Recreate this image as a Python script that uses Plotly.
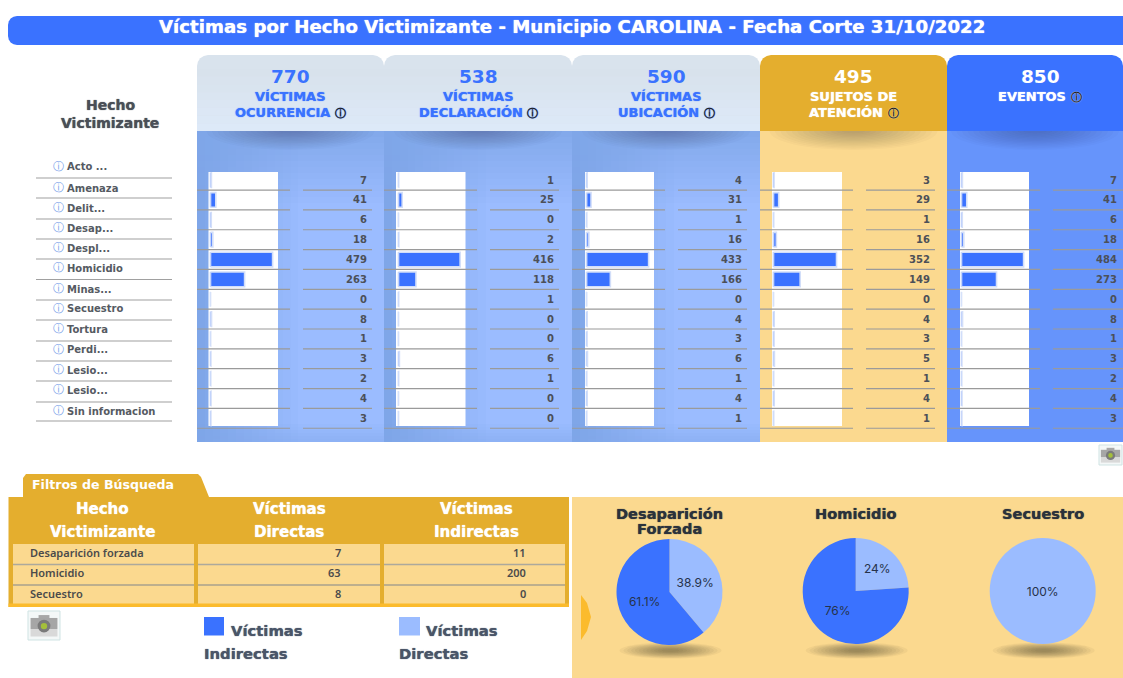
import plotly.graph_objects as go

# ---------- data ----------
titulo = "Víctimas por Hecho Victimizante - Municipio CAROLINA - Fecha Corte 31/10/2022"
hechos = ["Acto ...", "Amenaza", "Delit...", "Desap...", "Despl...", "Homicidio", "Minas...",
          "Secuestro", "Tortura", "Perdi...", "Lesio...", "Lesio...", "Sin informacion"]
ocurrencia = [7, 41, 6, 18, 479, 263, 0, 8, 1, 3, 2, 4, 3]
declaracion = [1, 25, 0, 2, 416, 118, 1, 0, 0, 6, 1, 0, 0]
ubicacion = [4, 31, 1, 16, 433, 166, 0, 4, 3, 6, 1, 4, 1]
sujetos = [3, 29, 1, 16, 352, 149, 0, 4, 3, 5, 1, 4, 1]
eventos = [7, 41, 6, 18, 484, 273, 0, 8, 1, 3, 2, 4, 3]
series = [ocurrencia, declaracion, ubicacion, sujetos, eventos]
totales = ["770", "538", "590", "495", "850"]
encabezados = [["VÍCTIMAS", "OCURRENCIA"], ["VÍCTIMAS", "DECLARACIÓN"], ["VÍCTIMAS", "UBICACIÓN"],
               ["SUJETOS DE", "ATENCIÓN"], ["EVENTOS"]]
tabla_hechos = ["Desaparición forzada", "Homicidio", "Secuestro"]
directas = [7, 63, 8]
indirectas = [11, 200, 0]
pie_titulos = [["Desaparición", "Forzada"], ["Homicidio"], ["Secuestro"]]

# ---------- style ----------
W, H = 1123, 678
BLUE, LIGHT, GOLD, SAND, AMBER = "#3a72ff", "#9bbcff", "#e4ae2e", "#fbd98f", "#fbbb2d"
FONT = "DejaVu Sans"
INFO = ' <span style="color:#1f1f1f;font-size:11px">ⓘ</span>'
px = lambda x: x / W
py = lambda y: 1 - y / H

shapes, anns = [], []


def rect(x0, y0, x1, y1, color, opacity=1, line=None):
    shapes.append(dict(type="rect", xref="paper", yref="paper", x0=px(x0), x1=px(x1), y0=py(y0), y1=py(y1),
                       fillcolor=color, opacity=opacity, layer="below",
                       line=dict(width=1, color=line) if line else dict(width=0)))


def hline(x0, x1, y, color="#9a9a9a", w=1.2):
    shapes.append(dict(type="line", xref="paper", yref="paper", x0=px(x0), x1=px(x1), y0=py(y), y1=py(y),
                       line=dict(color=color, width=w), layer="below"))


def ellipse(cx, cy, rx, ry, color, opacity):
    shapes.append(dict(type="circle", xref="paper", yref="paper", x0=px(cx - rx), x1=px(cx + rx),
                       y0=py(cy + ry), y1=py(cy - ry), fillcolor=color, opacity=opacity,
                       line=dict(width=0), layer="below"))


def path(points, color):
    d = " ".join(("M" if i == 0 else "L") + f" {px(x)} {py(y)}" for i, (x, y) in enumerate(points)) + " Z"
    shapes.append(dict(type="path", xref="paper", yref="paper", path=d, fillcolor=color,
                       line=dict(width=0), layer="below"))


def rounded(x0, y0, x1, y1, r, color, bottom=False):
    arc = [(r * (1 - c), r * (1 - s)) for c, s in [(1, 0), (0.92, 0.38), (0.71, 0.71), (0.38, 0.92), (0, 1)]]
    pts = [(x0 + dx, y0 + dy) for dx, dy in arc]
    pts += [(x1 - dx, y0 + dy) for dx, dy in reversed(arc)]
    if bottom:
        pts += [(x1 - dx, y1 - dy) for dx, dy in arc]
        pts += [(x0 + dx, y1 - dy) for dx, dy in reversed(arc)]
    else:
        pts += [(x1, y1), (x0, y1)]
    path(pts, color)


def text(x, y, s, size, color, anchor="center", weight=700, font=FONT, blur=True):
    f = dict(family=font, size=size, color=color, weight=weight)
    if blur:
        f["shadow"] = f"0 0 1px {color}"
    anns.append(dict(x=px(x), y=py(y), xref="paper", yref="paper", text=s, showarrow=False,
                     xanchor=anchor, yanchor="middle", font=f, borderpad=0, borderwidth=0))


def hexmix(a, b, t):
    ca = [int(a[i:i + 2], 16) for i in (1, 3, 5)]
    cb = [int(b[i:i + 2], 16) for i in (1, 3, 5)]
    return "#" + "".join(f"{round(p + (q - p) * t):02x}" for p, q in zip(ca, cb))


def camera(x0, y0, x1, y1):
    rect(x0, y0, x1, y1, "#f4f8f8", line="#cfe3e3")
    w, h = x1 - x0, y1 - y0
    rect(x0 + w * .33, y0 + h * .14, x0 + w * .67, y0 + h * .28, "#a8a8a8")
    rect(x0 + w * .08, y0 + h * .24, x0 + w * .92, y0 + h * .62, "#a6a6a6")
    rect(x0 + w * .08, y0 + h * .62, x0 + w * .92, y0 + h * .88, "#d9d9d9")
    cx, cy = (x0 + x1) / 2, y0 + h * .52
    ellipse(cx, cy, w * .2, w * .2, "#7a7a7a", 1)
    ellipse(cx, cy, w * .1, w * .1, "#a4bf3a", 1)


# ---------- title ----------
rounded(8, 16, 1140, 45, 9, BLUE, bottom=True)
text(572, 27, titulo, 18.2, "#ffffff")

# ---------- columns ----------
col_left = [197, 384, 572, 760, 947]
col_right = [384, 572, 760, 947, 1123]
box_left = [208.5, 396, 585, 772, 960]
box_right = [278, 465.5, 654, 842, 1029]
bar_left = [210.5, 398.5, 586.6, 773.5, 961.5]
HEAD_T, HEAD_B, BODY_B = 55, 131, 442
ROW_T, ROW_H, N = 170.2, 19.85, len(hechos)

for c in range(5):
    L, R = col_left[c], col_right[c]
    if c < 3:
        steps = 24
        for i in range(steps):
            x0 = L + round((R - L) * i / steps)
            x1 = L + round((R - L) * (i + 1) / steps)
            t = min(1, i / (steps * 0.55))
            rect(x0, HEAD_B, x1, BODY_B, hexmix("#7fa6e8", LIGHT, t))
        for i in range(12):
            y0 = HEAD_B + i * 6
            rect(L, y0, R, y0 + 6, "#7fa6e8", opacity=0.85 * (1 - i / 12))
        for i in range(6):
            y0 = BODY_B - (i + 1) * 3
            rect(L, y0, R, y0 + 3, "#7fa6e8", opacity=0.45 * (1 - i / 6))
    else:
        rect(L, HEAD_B, R, BODY_B, SAND if c == 3 else "#6694fb")
    # soft shadow under the header
    cx = (L + min(R, 1130)) / 2
    for i in range(14):
        f = 1 - i / 14
        ellipse(cx, HEAD_B, 78 * f + 6, 18 * f + 1, "#3c3c3c" if c == 3 else "#2c3c5c", 0.022)
    # header
    if c < 3:
        rounded(L, HEAD_T, R, HEAD_B, 11, "#d9e3ed")
        steps = 8
        for i in range(steps):
            y0 = HEAD_T + 14 + i * 62 / steps
            rect(L, y0, R, y0 + 62 / steps, hexmix("#d8e2ec", "#dde9f8", i / (steps - 1)))
        head_col = BLUE
    else:
        rounded(L, HEAD_T, R, HEAD_B, 11, GOLD if c == 3 else BLUE)
        head_col = "#ffffff"
    tx = (L + R) / 2 if c < 4 else 1040
    text(tx, 76, totales[c], 18.5, head_col, blur=False)
    lines = encabezados[c]
    for j, line in enumerate(lines):
        text(tx, 96 + j * 17, line + (INFO if j == len(lines) - 1 else ""), 13, head_col)
    # white track behind the bars and rows
    rect(box_left[c], 172, box_right[c], 426, "white")
    for r in range(N):
        y = ROW_T + (r + 1) * ROW_H
        rect(bar_left[c] - 1, y - 17.5, bar_left[c] + 0.5, y - 2.5, "#dbe6fb")
        hline(L, L + 93, y)
        hline(L + 106, L + 175 if c < 4 else L + 176, y)

# ---------- left labels ----------
text(110, 105, "Hecho", 14, "#4a4f57")
text(110, 123, "Victimizante", 14, "#4a4f57")
label_y = [167, 188, 208, 228, 248, 268, 289, 309, 329, 350, 370, 390, 411]
sep_y = [178, 198, 219, 239, 259, 279.5, 300, 320, 341, 361, 381, 402, 421]
for i, name in enumerate(hechos):
    text(58, label_y[i] - 1, "ⓘ", 10.5, "#6f9ae8", weight=400, blur=False)
    text(67, label_y[i], name, 10, "#555a62", anchor="left", blur=False)
    hline(36, 172, sep_y[i], "#a0a0a0", 1.2)

# ---------- search-filter table ----------
path([(23, 497), (23, 478), (26, 474), (198, 474), (201, 477), (209, 497)], GOLD)
text(32, 484.5, "Filtros de Búsqueda", 12.6, "#ffffff", anchor="left", blur=False)
rect(8.5, 497, 569, 607, GOLD)
cell_x = [(13, 194), (198, 380), (384, 565)]
cell_y = [(544, 564), (565, 584.5), (585.5, 604)]
for x0, x1 in cell_x:
    for y0, y1 in cell_y:
        rect(x0, y0, x1, y1, SAND)
    hline(x0, x1, 564.5, "#aca99c", 1.4)
    hline(x0, x1, 585, "#aca99c", 1.4)
rect(8.5, 603.5, 569, 607, AMBER)
for cx, l1, l2 in [(102, "Hecho", "Victimizante"), (289, "Víctimas", "Directas"), (476, "Víctimas", "Indirectas")]:
    text(cx, 508.5, l1, 15, "#ffffff")
    text(cx, 531.5, l2, 15, "#ffffff")
row_y = [552.5, 572.5, 593.5]
for i, name in enumerate(tabla_hechos):
    text(30, row_y[i], name, 11, "#4b4b4b", anchor="left", font="Noto Sans", weight=600, blur=False)
    text(341, row_y[i], str(directas[i]), 11, "#4b4b4b", anchor="right", font="Noto Sans", weight=600, blur=False)
    text(526, row_y[i], str(indirectas[i]), 11, "#4b4b4b", anchor="right", font="Noto Sans", weight=600, blur=False)

# ---------- legend ----------
rect(204, 617, 224, 635.5, BLUE)
rect(399, 617, 420, 635.5, LIGHT)
for x0, x1, l1, l2 in [(204, 231, "Víctimas", "Indirectas"), (399, 426, "Víctimas", "Directas")]:
    text(x1, 630, l1, 14.8, "#4a5568", anchor="left")
    text(x0, 653, l2, 14.8, "#4a5568", anchor="left")

# ---------- pie panel ----------
rect(572, 497, 1123, 678, SAND)
path([(581, 595), (587, 603), (591, 617), (587, 631), (581, 640)], AMBER)
pie_cx = [669.5, 855.7, 1042.7]
pie_cy = [592, 591, 591]
PIE_R = 53
for i in range(3):
    for k in range(12):
        f = 1 - k / 12
        ellipse(pie_cx[i] + 1, 650.5, 46 * f + 5, 7 * f + 1, "#3a3324", 0.05)
    for j, line in enumerate(pie_titulos[i]):
        text(pie_cx[i], 513 + j * 15, line, 14.6, "#2b323c")

camera(1099, 445, 1122, 465)
camera(28, 611, 60, 640)

# ---------- traces ----------
fig = go.Figure()
filas = list(range(N))
layout_axes = {}
for c, vals in enumerate(series):
    suf = "" if c == 0 else str(c + 1)
    fig.add_trace(go.Bar(x=vals, y=filas, orientation="h", width=0.74,
                         marker=dict(color=BLUE, line=dict(color="#d2def9", width=1.6)),
                         xaxis="x" + suf, yaxis="y" + suf, hoverinfo="x", showlegend=False))
    layout_axes["xaxis" + suf] = dict(domain=[px(bar_left[c]), px(box_right[c])],
                                      range=[0, max(vals) * 1.087], visible=False, anchor="y" + suf, fixedrange=True)
    layout_axes["yaxis" + suf] = dict(domain=[py(ROW_T + N * ROW_H), py(ROW_T)], range=[N - 0.5, -0.5],
                                      visible=False, anchor="x" + suf, fixedrange=True)
    right = col_left[c] + 170
    for r, v in zip(filas, vals):
        anns.append(dict(x=px(right), y=r, xref="paper", yref="y" + suf, text=str(v), showarrow=False,
                         xanchor="right", yanchor="middle", borderpad=0, borderwidth=0,
                         font=dict(family=FONT, size=10, color="#4c5058", weight=700)))

for i in range(3):
    fig.add_trace(go.Pie(labels=["Víctimas Directas", "Víctimas Indirectas"],
                         values=[directas[i], indirectas[i]],
                         domain=dict(x=[px(pie_cx[i] - PIE_R), px(pie_cx[i] + PIE_R)],
                                     y=[py(pie_cy[i] + PIE_R), py(pie_cy[i] - PIE_R)]),
                         sort=False, direction="clockwise", rotation=0,
                         marker=dict(colors=[LIGHT, BLUE], line=dict(width=0)),
                         textinfo="percent", textposition="inside", insidetextorientation="horizontal",
                         textfont=dict(family="Inter", size=12, color="#26324a"),
                         showlegend=False, hoverinfo="label+value+percent"))

fig.update_layout(width=W, height=H, autosize=False, margin=dict(l=0, r=0, t=0, b=0),
                  paper_bgcolor="white", plot_bgcolor="rgba(0,0,0,0)", barmode="overlay",
                  shapes=shapes, annotations=anns, showlegend=False, **layout_axes)
fig.write_html("out.html", config=dict(displayModeBar=False),
               post_script="document.body.style.margin='0';document.body.style.overflow='hidden';")
